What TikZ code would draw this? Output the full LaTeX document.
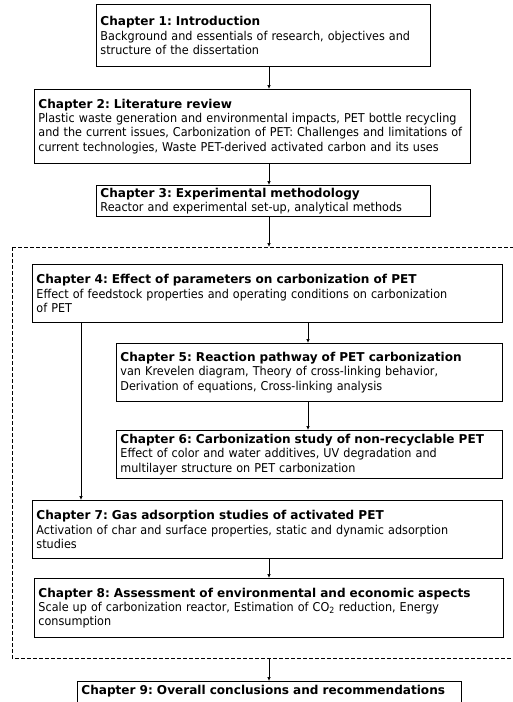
\documentclass[tikz,border=0pt]{standalone}
\usepackage{fontspec}
\setmainfont{DejaVu Sans}[FakeStretch=0.92, BoldFeatures={FakeStretch=0.99}]
\usepackage{tikz}
\usetikzlibrary{arrows.meta}
\frenchspacing

\tikzset{
    chap/.style={draw, line width=0.9pt, anchor=north west, align=left,
        inner xsep=4pt, inner ysep=1pt, font=\fontsize{12.2}{14.2}\selectfont},
    flow/.style={-{Latex[length=4pt,width=3.5pt]}, line width=0.7pt}
}

\begin{document}
\begin{tikzpicture}[x=1pt,y=-1pt]
    \useasboundingbox (0,0) rectangle (513,702);
    %边界(bounding box),与原图同比例(513x702)
    \node[chap, text width=326pt, minimum height=62pt] (ch1) at (96,4)
        {\textbf{Chapter 1: Introduction}\\Background and essentials of research, objectives and\\structure of the dissertation};
    \node[chap, text width=428pt, minimum height=74pt] (ch2) at (34,89)
        {\textbf{Chapter 2: Literature review}\\Plastic waste generation and environmental impacts, PET bottle recycling\\and the current issues, Carbonization of PET: Challenges and limitations of\\current technologies, Waste PET-derived activated carbon and its uses};
    \node[chap, text width=326pt, minimum height=31pt] (ch3) at (96,185)
        {\textbf{Chapter 3: Experimental methodology}\\Reactor and experimental set-up, analytical methods};
    %上方三个章节框(chap),左上角(north west)放在坐标处
    \draw[dashed, dash pattern=on 4pt off 2pt, line width=0.7pt] (12,247) rectangle (530,658);
    %虚线框(dashed),右边超出图外
    \node[chap, text width=462pt, minimum height=58pt] (ch4) at (32,264)
        {\textbf{Chapter 4: Effect of parameters on carbonization of PET}\\Effect of feedstock properties and operating conditions on carbonization\\of PET};
    \node[chap, text width=378pt, minimum height=58pt] (ch5) at (116,343)
        {\textbf{Chapter 5: Reaction pathway of PET carbonization}\\van Krevelen diagram, Theory of cross-linking behavior,\\Derivation of equations, Cross-linking analysis};
    \node[chap, text width=378pt, minimum height=48pt] (ch6) at (116,430)
        {\textbf{Chapter 6: Carbonization study of non-recyclable PET}\\Effect of color and water additives, UV degradation and\\multilayer structure on PET carbonization};
    \node[chap, text width=462pt, minimum height=58pt] (ch7) at (32,500)
        {\textbf{Chapter 7: Gas adsorption studies of activated PET}\\Activation of char and surface properties, static and dynamic adsorption\\studies};
    \node[chap, text width=461pt, minimum height=59pt] (ch8) at (34,578)
        {\textbf{Chapter 8: Assessment of environmental and economic aspects}\\Scale up of carbonization reactor, Estimation of CO\textsubscript{2} reduction, Energy\\consumption};
    \node[chap, text width=376pt, minimum height=36pt] (ch9) at (77,681)
        {\textbf{Chapter 9: Overall conclusions and recommendations}\\\strut};
    %虚线框内与下方的章节框(chap)
    \coordinate (ax) at (269,0);
    \coordinate (bx) at (81,0);
    \coordinate (cx) at (308,0);
    \coordinate (dtop) at (269,247);
    \coordinate (dbot) at (269,658);
    %箭头所在的竖线位置(ax, bx, cx)与虚线框上下边的点
    \draw[flow] (ch1.south -| ax) -- (ch2.north -| ax);
    \draw[flow] (ch2.south -| ax) -- (ch3.north -| ax);
    \draw[flow] (ch3.south -| ax) -- (dtop);
    \draw[flow] (ch4.south -| cx) -- (ch5.north -| cx);
    \draw[flow] (ch5.south -| cx) -- (ch6.north -| cx);
    \draw[flow] (ch4.south -| bx) -- (ch7.north -| bx);
    \draw[flow] (ch7.south -| ax) -- (ch8.north -| ax);
    \draw[flow] (dbot) -- (ch9.north -| ax);
    %绘制(draw)箭头(flow),从上框底边到下框顶边
\end{tikzpicture}
\end{document}
